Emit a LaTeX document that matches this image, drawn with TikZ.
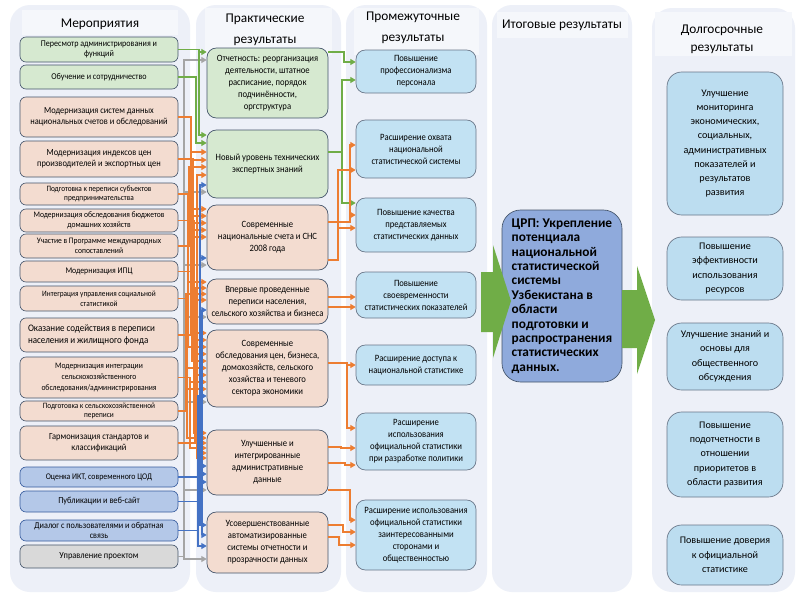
\documentclass[tikz,border=0pt]{standalone}
\usepackage{fontspec}
\setmainfont{Carlito}
\newfontfamily\cond[FakeStretch=0.9]{Carlito}
\usetikzlibrary{arrows.meta,calc}
\definecolor{cBg}{HTML}{EDF0F8}
\definecolor{cHead}{HTML}{F5F7FB}
\definecolor{cGbox}{HTML}{D6E9D0}
\definecolor{cPeach}{HTML}{F3DCD0}
\definecolor{cBbox}{HTML}{B4C8E8}
\definecolor{cGrbox}{HTML}{D9D9D9}
\definecolor{cQ}{HTML}{C2E2F3}
\definecolor{cR}{HTML}{BCDDF0}
\definecolor{cCrp}{HTML}{8FAADC}
\definecolor{cArr}{HTML}{70AD47}
\definecolor{cOr}{HTML}{ED7D31}
\definecolor{cGl}{HTML}{70AD47}
\definecolor{cBl}{HTML}{4472C4}
\definecolor{cGy}{HTML}{A5A5A5}
\definecolor{cBorder}{HTML}{44546A}
\newcommand\mybox[7]{\node[#1, minimum width={(#5-#3)*0.75pt}, minimum height={(#6-#4)*0.75pt}] (#2) at ({(#3+#5)/2},{(#4+#6)/2}) {#7};}
\newcommand\lnk[5]{\draw[#1] (#2.east) -| (#3,#5) -- (#4.west |- 0,#5);}
\newcommand\rnk[6]{\draw[#1] (#2.east |- 0,#3) -| (#4,#6) -- (#5.west |- 0,#6);}
\tikzset{
  box/.style={rectangle, draw=cBorder, line width=0.5pt, inner sep=0pt, align=center},
  mbox/.style={box, rounded corners=4.5pt},
  gbox/.style={mbox, fill=cGbox},
  obox/.style={mbox, fill=cPeach},
  bbox/.style={mbox, fill=cBbox, draw=cBl!80!black},
  grbox/.style={mbox, fill=cGrbox},
  pg/.style={box, rounded corners=7pt, fill=cGbox, font=\cond\fontsize{7.2}{9}\selectfont},
  po/.style={box, rounded corners=7pt, fill=cPeach, font=\cond\fontsize{7.2}{9}\selectfont},
  qbox/.style={box, rounded corners=7pt, fill=cQ, draw=cBorder!80, font=\cond\fontsize{7.2}{9}\selectfont},
  rbox/.style={box, rounded corners=11pt, fill=cR, draw=cBorder!80, font=\fontsize{7.6}{10.7}\selectfont},
  crp/.style={box, rounded corners=14pt, fill=cCrp, draw=cBorder, align=flush left, font=\fontsize{10}{10.8}\selectfont\bfseries},
  hdr/.style={inner sep=0pt, align=center, font=\fontsize{10}{15.5}\selectfont},
  ln/.style={line width=0.8pt, -{Triangle[length=4pt,width=4.5pt]}},
  oa/.style={ln, draw=cOr},
  ga/.style={ln, draw=cGl},
  ba/.style={ln, draw=cBl},
  ya/.style={ln, draw=cGy},
}
\begin{document}
\begin{tikzpicture}[x=0.75pt,y=-0.75pt]
\useasboundingbox (0,0) rectangle (800,600);
\fill[white] (0,0) rectangle (800,600);
% column backgrounds
\fill[cBg, rounded corners=15pt] (10,5) rectangle (190,592);
\fill[cBg, rounded corners=15pt] (196,5) rectangle (341,592);
\fill[cBg, rounded corners=15pt] (346,5) rectangle (487,592);
\fill[cBg, rounded corners=15pt] (492,5) rectangle (632,592);
\fill[cBg, rounded corners=15pt] (652,8) rectangle (795,592);
\fill[cHead] (22,10) rectangle (178,35);
\fill[cHead] (205,8) rectangle (332,55);
\fill[cHead] (354,8) rectangle (479,55);
\fill[cHead] (497,12) rectangle (628,38);
\fill[cHead] (655,12) rectangle (792,56);
% headers
\node[hdr] (h1) at (100,24) {Мероприятия};
\node[hdr] (h2) at (265,30) {Практические\\результаты};
\node[hdr] (h3) at (413,28) {Промежуточные\\результаты};
\node[hdr] (h4) at (562,25) {Итоговые результаты};
\node[hdr, font=\fontsize{10}{13.5}\selectfont] (h5) at (722,39) {Долгосрочные\\результаты};
% column 1
\mybox{gbox, font=\cond\fontsize{6.7}{7.8}\selectfont}{m1}{20}{37}{178}{62}{Пересмотр администрирования и\\функций}
\mybox{gbox, font=\cond\fontsize{6.7}{7.8}\selectfont}{m2}{20}{65}{178}{89}{Обучение и сотрудничество}
\mybox{obox, font=\cond\fontsize{7}{8.3}\selectfont}{m3}{20}{97}{178}{137}{Модернизация систем данных\\национальных счетов и обследований}
\mybox{obox, font=\cond\fontsize{7}{8.3}\selectfont}{m4}{20}{141}{178}{177}{Модернизация индексов цен\\производителей и экспортных цен}
\mybox{obox, font=\cond\fontsize{6.1}{7.3}\selectfont}{m5}{20}{183}{178}{205}{Подготовка к переписи субъектов\\предпринимательства}
\mybox{obox, font=\cond\fontsize{6.3}{7.3}\selectfont}{m6}{20}{209}{178}{232}{Модернизация обследования бюджетов\\домашних хозяйств}
\mybox{obox, font=\cond\fontsize{6.3}{7.3}\selectfont}{m7}{20}{234}{178}{258}{Участие в Программе международных\\сопоставлений}
\mybox{obox, font=\cond\fontsize{6.5}{7.5}\selectfont}{m8}{20}{261}{178}{282}{Модернизация ИПЦ}
\mybox{obox, font=\cond\fontsize{6.1}{7.3}\selectfont}{m9}{20}{286}{178}{311}{Интеграция управления социальной\\статистикой}
\mybox{obox, font=\cond\fontsize{7.5}{8.8}\selectfont, text width=106.5pt, align=flush left}{m10}{20}{318}{178}{352}{Оказание содействия в переписи\\населения и жилищного фонда}
\mybox{obox, font=\cond\fontsize{6.3}{8}\selectfont}{m11}{20}{357}{178}{398}{Модернизация интеграции\\сельскохозяйственного\\обследования/администрирования}
\mybox{obox, font=\cond\fontsize{6.1}{7.3}\selectfont}{m12}{20}{401}{178}{421}{Подготовка к сельскохозяйственной\\переписи}
\mybox{obox, font=\cond\fontsize{7}{8.3}\selectfont}{m13}{20}{426}{178}{460}{Гармонизация стандартов и\\классификаций}
\mybox{bbox, font=\cond\fontsize{6.5}{7.5}\selectfont}{m14}{20}{467}{178}{487}{Оценка ИКТ, современного ЦОД}
\mybox{bbox, font=\cond\fontsize{6.9}{7.8}\selectfont}{m15}{20}{491}{178}{512}{Публикации и веб-сайт}
\mybox{bbox, font=\cond\fontsize{6.8}{7.8}\selectfont}{m16}{20}{520}{178}{541}{Диалог с пользователями и обратная\\связь}
\mybox{grbox, font=\cond\fontsize{7}{8}\selectfont}{m17}{20}{545}{178}{568}{Управление проектом}
% column 2
\mybox{pg}{p1}{207}{48}{328}{118}{Отчетность: реорганизация\\деятельности, штатное\\расписание, порядок\\подчинённости,\\оргструктура}
\mybox{pg}{p2}{207}{130}{328}{198}{Новый уровень технических\\экспертных знаний}
\mybox{po}{p3}{207}{205}{328}{270}{Современные\\национальные счета и СНС\\2008 года}
\mybox{po}{p4}{207}{279}{328}{324}{Впервые проведенные\\переписи населения,\\сельского хозяйства и бизнеса}
\mybox{po}{p5}{207}{330}{328}{407}{Современные\\обследования цен, бизнеса,\\домохозяйств, сельского\\хозяйства и теневого\\сектора экономики}
\mybox{po}{p6}{207}{430}{328}{495}{Улучшенные и\\интегрированные\\административные\\данные}
\mybox{po}{p7}{207}{512}{328}{573}{Усовершенствованные\\автоматизированные\\системы отчетности и\\прозрачности данных}
% column 3
\mybox{qbox}{q1}{356}{50}{476}{93}{Повышение\\профессионализма\\персонала}
\mybox{qbox}{q2}{356}{120}{476}{178}{Расширение охвата\\национальной\\статистической системы}
\mybox{qbox}{q3}{356}{198}{476}{252}{Повышение качества\\представляемых\\статистических данных}
\mybox{qbox}{q4}{356}{272}{476}{318}{Повышение\\своевременности\\статистических показателей}
\mybox{qbox}{q5}{356}{345}{476}{385}{Расширение доступа к\\национальной статистике}
\mybox{qbox}{q6}{356}{413}{476}{470}{Расширение\\использования\\официальной статистики\\при разработке политики}
\mybox{qbox}{q7}{356}{500}{476}{570}{Расширение использования\\официальной статистики\\заинтересованными\\сторонами и\\общественностью}
% column 4
\mybox{crp}{cr}{502}{210}{622}{382}{ЦРП: Укрепление\\потенциала\\национальной\\статистической\\системы\\Узбекистана в\\области\\подготовки и\\распространения\\статистических\\данных.}
% column 5
\mybox{rbox}{r1}{667}{72}{783}{215}{Улучшение\\мониторинга\\экономических,\\социальных,\\административных\\показателей и\\результатов\\развития}
\mybox{rbox}{r2}{667}{237}{783}{300}{Повышение\\эффективности\\использования\\ресурсов}
\mybox{rbox}{r3}{667}{323}{783}{390}{Улучшение знаний и\\основы для\\общественного\\обсуждения}
\mybox{rbox}{r4}{667}{412}{783}{497}{Повышение\\подотчетности в\\отношении\\приоритетов в\\области развития}
\mybox{rbox}{r5}{667}{525}{783}{585}{Повышение доверия\\к официальной\\статистике}
% big green arrows
\fill[cArr] (481,272) -- (493,272) -- (493,245) -- (511,301) -- (493,358) -- (493,332) -- (481,332) -- cycle;
\fill[cArr] (622,290) -- (637,290) -- (637,266) -- (655,320) -- (637,374) -- (637,348) -- (622,348) -- cycle;
% connectors column 1 -> column 2
\lnk{ya}{m17}{184}{p1}{60}
\lnk{ya}{m17}{184}{p2}{192}
\lnk{ya}{m17}{184}{p3}{265}
\lnk{ya}{m17}{184}{p4}{317}
\lnk{ya}{m17}{184}{p5}{402}
\lnk{ya}{m17}{184}{p6}{490}
\lnk{ya}{m17}{184}{p7}{559}
\lnk{oa}{m3}{191}{p2}{152}
\lnk{oa}{m3}{191}{p3}{209}
\lnk{oa}{m3}{191}{p5}{333}
\lnk{oa}{m4}{193}{p2}{160}
\lnk{oa}{m4}{193}{p3}{216}
\lnk{oa}{m4}{193}{p5}{340}
\lnk{oa}{m5}{188}{p4}{282}
\lnk{oa}{m5}{188}{p5}{347}
\lnk{oa}{m6}{194}{p3}{223}
\lnk{oa}{m6}{194}{p5}{354}
\lnk{oa}{m6}{194}{p6}{433}
\lnk{oa}{m7}{189}{p2}{167}
\lnk{oa}{m7}{189}{p3}{230}
\lnk{oa}{m8}{192}{p3}{237}
\lnk{oa}{m8}{192}{p5}{361}
\lnk{oa}{m9}{187}{p5}{368}
\lnk{oa}{m9}{187}{p6}{438}
\lnk{oa}{m10}{195}{p4}{288}
\lnk{oa}{m10}{195}{p5}{375}
\lnk{oa}{m10}{195}{p6}{443}
\lnk{oa}{m11}{190}{p5}{382}
\lnk{oa}{m11}{190}{p6}{448}
\lnk{oa}{m12}{186}{p4}{294}
\lnk{oa}{m12}{186}{p5}{389}
\lnk{oa}{m13}{197}{p2}{175}
\lnk{oa}{m13}{197}{p4}{300}
\lnk{oa}{m13}{197}{p6}{453}
\lnk{oa}{m13}{197}{p6}{458}
\lnk{ba}{m14}{200}{p2}{185}
\lnk{ba}{m14}{200}{p3}{258}
\lnk{ba}{m14}{200}{p6}{466}
\lnk{ba}{m14}{200}{p7}{525}
\lnk{ba}{m15}{202}{p4}{310}
\lnk{ba}{m15}{202}{p6}{474}
\lnk{ba}{m15}{202}{p7}{535}
\lnk{ba}{m16}{198}{p5}{396}
\lnk{ba}{m16}{198}{p6}{482}
\lnk{ba}{m16}{198}{p7}{546}
\lnk{ga}{m1}{199}{p1}{52}
\lnk{ga}{m1}{199}{p2}{135}
\lnk{ga}{m2}{196}{p2}{143}
% connectors column 2 -> column 3
\rnk{ga}{p1}{52}{344}{q1}{62}
\rnk{ga}{p2}{152}{342}{q1}{80}
\rnk{ga}{p2}{152}{342}{q3}{203}
\rnk{oa}{p3}{222}{350}{q2}{145}
\rnk{oa}{p3}{222}{350}{q3}{215}
\rnk{oa}{p3}{260}{338}{q2}{170}
\rnk{oa}{p3}{260}{338}{q3}{228}
\rnk{oa}{p4}{297}{345}{q4}{297}
\rnk{oa}{p4}{307}{345}{q4}{307}
\rnk{oa}{p5}{363}{347}{q5}{365}
\rnk{oa}{p5}{363}{347}{q6}{428}
\rnk{oa}{p6}{447}{341}{q6}{448}
\rnk{oa}{p6}{463}{345}{q6}{465}
\rnk{oa}{p6}{490}{350}{q7}{520}
\rnk{oa}{p7}{525}{343}{q7}{532}
\rnk{oa}{p7}{537}{339}{q7}{545}
\end{tikzpicture}
\end{document}
